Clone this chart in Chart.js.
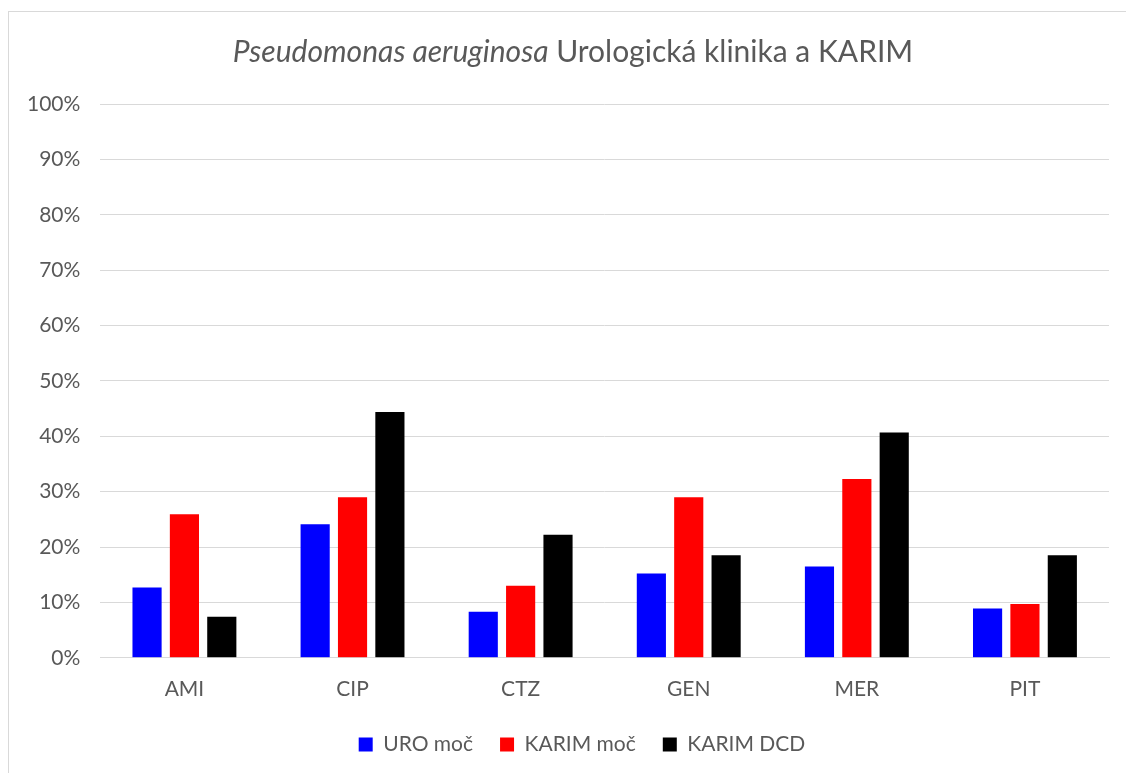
<!DOCTYPE html>
<html>
<head>
<meta charset="utf-8">
<script src="https://cdn.jsdelivr.net/npm/chart.js@4"></script>
<style>
  body { margin: 0; background: #fff; }
  #frame {
    position: absolute; left: 8px; top: 11px; width: 1130px; height: 780px;
    border-left: 1px solid #d9d9d9; border-top: 1px solid #d9d9d9;
  }
  #wrap { position: absolute; left: 0; top: 0; width: 1126px; height: 773px; }
</style>
</head>
<body>
<div id="frame"></div>
<div id="wrap"><canvas id="resistChart"></canvas></div>
<script>
// Antibiotics on the x axis
const categories = ['AMI', 'CIP', 'CTZ', 'GEN', 'MER', 'PIT'];

// Share of resistant strains, per source (fraction, 0..1)
const uroMoc = [0.127, 0.241, 0.083, 0.152, 0.165, 0.089];
const karimMoc = [0.259, 0.290, 0.130, 0.290, 0.323, 0.097];
const karimDcd = [0.074, 0.444, 0.222, 0.185, 0.407, 0.185];

const yTicks = [0, 0.1, 0.2, 0.3, 0.4, 0.5, 0.6, 0.7, 0.8, 0.9, 1.0];

const textColor = '#595959';
const gridColor = '#d9d9d9';
const fontFamily = 'Lato, "Open Sans", sans-serif';

// Title with an italic species name, drawn on the canvas
const titlePlugin = {
    id: 'mixedTitle',
    afterDraw(chart) {
        const ctx = chart.ctx;
        const partA = 'Pseudomonas aeruginosa';
        const partB = ' Urologická klinika a KARIM';
        ctx.save();
        ctx.fillStyle = textColor;
        ctx.textBaseline = 'middle';
        ctx.font = 'italic 30px ' + fontFamily;
        const wA = ctx.measureText(partA).width;
        ctx.font = '30px ' + fontFamily;
        const wB = ctx.measureText(partB).width;
        let x = (chart.width - (wA + wB)) / 2 + 10;
        const y = 52;
        ctx.font = 'italic 30px ' + fontFamily;
        ctx.fillText(partA, x, y);
        ctx.font = '30px ' + fontFamily;
        ctx.fillText(partB, x + wA, y);
        ctx.restore();
    }
};

// Nudge the legend a bit to the right, like in the original
const legendShift = {
    id: 'legendShift',
    afterLayout(chart) {
        if (chart.legend) {
            chart.legend.left += 24;
            chart.legend.right += 24;
        }
    }
};

document.addEventListener('DOMContentLoaded', () => {
    const canvas = document.getElementById('resistChart');
    const ctx = canvas.getContext('2d');

    const commonBar = {
        categoryPercentage: 0.667,
        barPercentage: 0.78,
        borderWidth: 0
    };

    new Chart(ctx, {
        type: 'bar',
        data: {
            labels: categories,
            datasets: [
                { label: 'URO moč', data: uroMoc, backgroundColor: '#0000ff', ...commonBar },
                { label: 'KARIM moč', data: karimMoc, backgroundColor: '#ff0000', ...commonBar },
                { label: 'KARIM DCD', data: karimDcd, backgroundColor: '#000000', ...commonBar }
            ]
        },
        options: {
            responsive: true,
            maintainAspectRatio: false,
            animation: false,
            layout: {
                padding: { top: 104, left: 7, right: 17, bottom: 8 }
            },
            plugins: {
                legend: {
                    position: 'bottom',
                    labels: {
                        color: textColor,
                        font: { family: fontFamily, size: 21 },
                        boxWidth: 14,
                        boxHeight: 14,
                        padding: 27
                    }
                },
                title: { display: false },
                tooltip: { enabled: false }
            },
            scales: {
                x: {
                    grid: { display: false, drawTicks: false },
                    border: { color: gridColor, width: 1 },
                    ticks: {
                        color: textColor,
                        font: { family: fontFamily, size: 21 },
                        padding: 19
                    },
                    // legend padding is larger for the horizontal gaps, take the extra back here
                    afterFit: (scale) => { scale.height -= 14; }
                },
                y: {
                    min: 0,
                    max: 1,
                    afterBuildTicks: (axis) => {
                        axis.ticks = yTicks.map(v => ({ value: v }));
                    },
                    grid: { color: gridColor, lineWidth: 1, drawTicks: false },
                    border: { display: false },
                    ticks: {
                        color: textColor,
                        font: { family: fontFamily, size: 21 },
                        padding: 20,
                        callback: (v) => Math.round(v * 100) + '%'
                    }
                }
            }
        },
        plugins: [titlePlugin, legendShift]
    });
});
</script>
</body>
</html>
